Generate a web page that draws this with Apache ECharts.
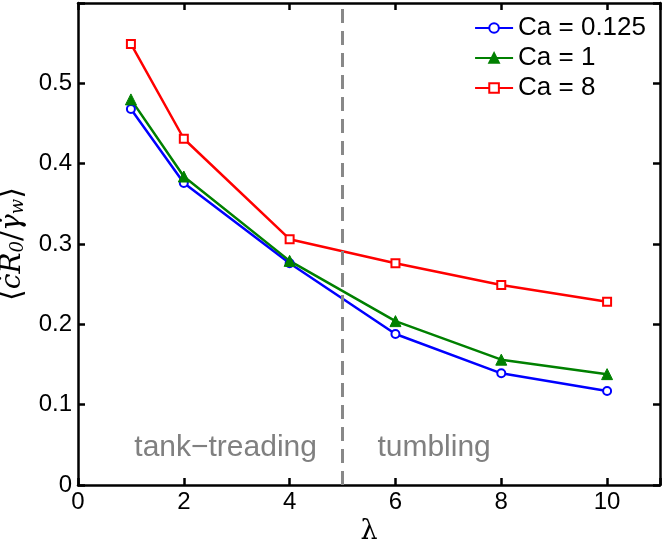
<!DOCTYPE html>
<html><head><meta charset="utf-8">
<script src="https://cdn.jsdelivr.net/npm/echarts@6/dist/echarts.min.js"></script>
<style>html,body{margin:0;padding:0;background:#fff}#c{width:663px;height:542px}</style>
</head><body><div id="c"></div>
<script>
const lambdas = [1, 2, 4, 6, 8, 10];
const ca0125 = [0.468, 0.376, 0.276, 0.188, 0.139, 0.117];
const ca1 = [0.480, 0.384, 0.279, 0.204, 0.156, 0.138];
const ca8 = [0.549, 0.431, 0.306, 0.276, 0.249, 0.228];
const seriesNames = ['Ca = 0.125', 'Ca = 1', 'Ca = 8'];
const regimeLabels = ['tank\u2212treading', 'tumbling'];
const transitionLambda = 5;

const pair = v => lambdas.map((x, i) => [x, v[i]]);
const font = 'Liberation Sans, Arial, sans-serif';
const chart = echarts.init(document.getElementById('c'));
const axisCommon = () => ({
  axisLine: {show: true, onZero: false, lineStyle: {color: '#000', width: 2.5}},
  axisTick: {show: true, inside: true, length: 7, lineStyle: {color: '#000', width: 2.5}},
  splitLine: {show: false}
});
chart.setOption({
  animation: false,
  grid: {left: 78, right: 3, top: 3, bottom: 57, containLabel: false, outerBoundsMode: 'none'},
  legend: {
    orient: 'vertical', right: 12, top: 10, itemWidth: 38, itemHeight: 12, itemGap: 4,
    textStyle: {fontFamily: font, fontSize: 26, color: '#000'},
    data: seriesNames
  },
  xAxis: [
    Object.assign({type: 'value', min: 0, max: 11, interval: 2, position: 'bottom',
      axisLabel: {fontFamily: font, fontSize: 24, color: '#000', margin: 5,
        formatter: v => v > 10 ? '' : String(v)},
      name: '\u03bb', nameLocation: 'middle', nameGap: 22,
      nameTextStyle: {fontFamily: 'DejaVu Serif', fontSize: 27, color: '#000'}}, axisCommon()),
    Object.assign({type: 'value', min: 0, max: 11, interval: 2, position: 'top',
      axisLabel: {show: false}}, axisCommon())
  ],
  yAxis: [
    Object.assign({type: 'value', min: 0, max: 0.6, interval: 0.1, position: 'left',
      axisLabel: {fontFamily: font, fontSize: 24, color: '#000', margin: 6,
        formatter: v => v >= 0.59 ? '' : (v === 0 ? '0' : v.toFixed(1))},
      name: '{b|\u27e8}{a|\u010bR}{s|0}{b|/}{a|\u03b3\u0307}{s|w}{b|\u27e9}', nameLocation: 'middle', nameGap: 46, nameRotate: 90,
      nameTextStyle: {rich: {
        a: {fontFamily: 'DejaVu Serif', fontStyle: 'italic', fontSize: 28, color: '#000'},
        b: {fontFamily: 'DejaVu Serif', fontSize: 30, color: '#000'},
        s: {fontFamily: 'DejaVu Serif', fontStyle: 'italic', fontSize: 18, color: '#000', padding: [12, 0, 0, 0]}
      }}}, axisCommon()),
    Object.assign({type: 'value', min: 0, max: 0.6, interval: 0.1, position: 'right',
      axisLabel: {show: false}}, axisCommon())
  ],
  series: [
    {name: seriesNames[0], type: 'line', data: pair(ca0125), symbol: 'circle', symbolSize: 8,
      itemStyle: {color: '#fff', borderColor: '#0000ff', borderWidth: 2},
      lineStyle: {color: '#0000ff', width: 2.5}, color: '#0000ff',
      markLine: {silent: true, symbol: 'none', label: {show: false},
        lineStyle: {color: '#888', width: 3, type: [14, 8]},
        data: [{xAxis: transitionLambda}]}},
    {name: seriesNames[1], type: 'line', data: pair(ca1), symbol: 'triangle', symbolSize: 11,
      itemStyle: {color: '#008000', borderColor: '#008000', borderWidth: 1},
      lineStyle: {color: '#008000', width: 2.5}, color: '#008000'},
    {name: seriesNames[2], type: 'line', data: pair(ca8), symbol: 'rect', symbolSize: 8,
      itemStyle: {color: '#fff', borderColor: '#ff0000', borderWidth: 2},
      lineStyle: {color: '#ff0000', width: 2.5}, color: '#ff0000'}
  ]
});
const p1 = chart.convertToPixel({xAxisIndex: 0, yAxisIndex: 0}, [2.79, 0.046]);
const p2 = chart.convertToPixel({xAxisIndex: 0, yAxisIndex: 0}, [6.73, 0.046]);
chart.setOption({graphic: [
  {type: 'text', x: p1[0], y: p1[1], style: {text: regimeLabels[0], fontFamily: font, fontSize: 30, fill: '#808080', align: 'center', verticalAlign: 'middle'}},
  {type: 'text', x: p2[0], y: p2[1], style: {text: regimeLabels[1], fontFamily: font, fontSize: 30, fill: '#808080', align: 'center', verticalAlign: 'middle'}}
]});
</script></body></html>
